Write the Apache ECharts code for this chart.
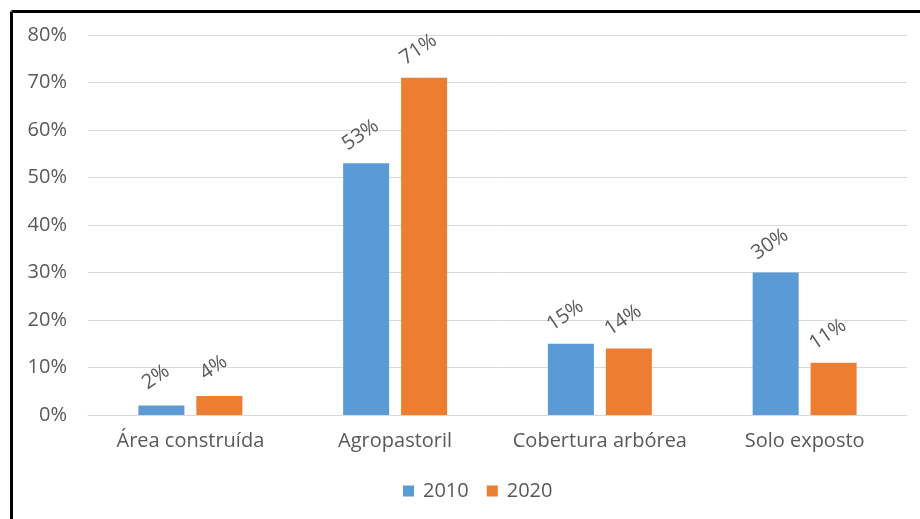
<!DOCTYPE html>
<html><head><meta charset="utf-8">
<script src="https://cdn.jsdelivr.net/npm/echarts@6/dist/echarts.min.js"></script>
<style>html,body{margin:0;padding:0;background:#fff}#c{width:920px;height:519px}</style>
</head><body><div id="c"></div>
<script>
const categories = ['Área construída', 'Agropastoril', 'Cobertura arbórea', 'Solo exposto'];
const values2010 = [2, 53, 15, 30];
const values2020 = [4, 71, 14, 11];
const seriesNames = ['2010', '2020'];
const font = '"Open Sans", Lato, sans-serif';
const chart = echarts.init(document.getElementById('c'));
const lbl = {
  show: true, position: 'top', distance: 20, rotate: 34,
  formatter: p => p.value + '%', color: '#595959', fontSize: 20, fontFamily: font
};
chart.setOption({
  animation: false,
  graphic: [
    {type: 'line', shape: {x1: 11.5, y1: 11.5, x2: 920, y2: 11.5}, style: {stroke: '#000', lineWidth: 3}},
    {type: 'line', shape: {x1: 11.5, y1: 11.5, x2: 11.5, y2: 519}, style: {stroke: '#000', lineWidth: 3}}
  ],
  grid: {left: 88, right: 13, top: 35, bottom: 104, containLabel: false},
  legend: {
    data: seriesNames, bottom: 13, left: 398, itemWidth: 11, itemHeight: 11, itemGap: 18,
    icon: 'rect', textStyle: {color: '#595959', fontSize: 20, fontFamily: font, padding: [0, 0, 0, 4]}
  },
  xAxis: {
    type: 'category', data: categories,
    axisLine: {lineStyle: {color: '#d9d9d9'}}, axisTick: {show: false},
    axisLabel: {interval: 0, color: '#595959', fontSize: 20, fontFamily: font, margin: 16}
  },
  yAxis: {
    type: 'value', min: 0, max: 80, interval: 10,
    axisLabel: {formatter: '{value}%', color: '#595959', fontSize: 20, fontFamily: font, margin: 21},
    splitLine: {lineStyle: {color: '#d9d9d9'}}, axisLine: {show: false}, axisTick: {show: false}
  },
  series: [
    {name: '2010', type: 'bar', data: values2010, barWidth: 46, barGap: '26%', itemStyle: {color: '#5b9bd5'}, label: lbl},
    {name: '2020', type: 'bar', data: values2020, barWidth: 46, itemStyle: {color: '#ed7d31'}, label: lbl}
  ]
});
</script></body></html>
